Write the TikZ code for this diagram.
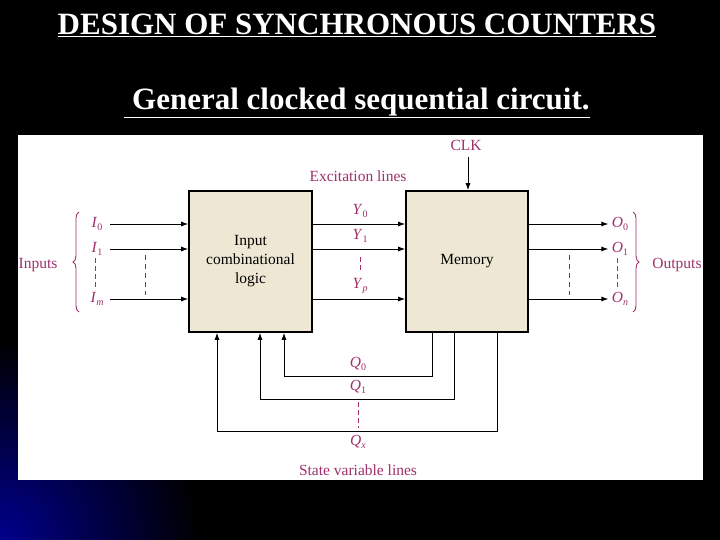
\documentclass[tikz,border=0pt]{standalone}
\usepackage{fontspec}
\setmainfont{Liberation Serif}
\usetikzlibrary{decorations.pathreplacing,arrows.meta}
\definecolor{lab}{HTML}{A0306A}
\definecolor{boxfill}{HTML}{EDE7D3}
\newcommand{\vr}[2]{\textit{#1}\raisebox{-0.35ex}{\fontsize{10}{10}\selectfont #2}}
\begin{document}
\begin{tikzpicture}[x=1pt,y=-1pt,
  blk/.style={draw=black,line width=1.6pt,fill=boxfill},
  sig/.style={line width=0.9pt,-{Latex[length=7pt,width=5pt]}},
  lbl/.style={text=lab,font=\fontsize{15.5}{17}\selectfont},
  dsh/.style={dashed,line width=0.8pt,dash pattern=on 5pt off 4pt},
  ttl/.style={text=white,font=\bfseries\fontsize{31}{34}\selectfont}]
\useasboundingbox (0,0) rectangle (720,540);
\fill[black] (0,0) rectangle (720,540);
\shade[inner color=blue!55!black,outer color=black] (0,540) circle (200);
\fill[black] (18,0) rectangle (720,480);
\fill[black] (0,0) rectangle (18,320);
\node[ttl] (t1) at (357,25) {\underline{DESIGN OF SYNCHRONOUS COUNTERS}};
\node[ttl] (t2) at (357,103) {\underline{\ General clocked sequential circuit.}};
\fill[white] (18,135) rectangle (703,480);
\node[blk,minimum width=123pt,minimum height=141pt,align=center,font=\fontsize{15.5}{19}\selectfont] (icl) at (250.5,261.5) {Input\\combinational\\logic};
\node[blk,minimum width=122pt,minimum height=141pt,font=\fontsize{15.5}{19}\selectfont] (mem) at (467,261.5) {Memory};
\foreach \y/\a/\b/\c/\n in {224/0/0/0/0,249/1/1/1/1,299/\textit{m}/\textit{p}/\textit{n}/m}{
  \node[lbl] (i\n) at (97,\y) {\vr{I}{\a}};
  \coordinate (ia\n) at (110,\y);
  \draw[sig] (ia\n) -- (ia\n -| icl.west);
  \node[lbl] (y\n) at (360,\y-13) {\vr{Y}{\b}};
  \draw[sig] (icl.east |- ia\n) -- (mem.west |- ia\n);
  \node[lbl] (o\n) at (620,\y) {\vr{O}{\c}};
  \draw[sig] (mem.east |- ia\n) -- (o\n.west);
}
\draw[lab,line width=0.6pt,dash pattern=on 5pt off 3pt] (95,258) -- (95,290);
\draw[lab,line width=0.6pt,dash pattern=on 5pt off 3pt] (360,257) -- (360,272);
\draw[lab,line width=0.6pt,dash pattern=on 5pt off 3pt] (617,258) -- (617,290);
\draw[black!70,dsh] (145,255) -- (145,295);
\draw[black!70,dsh] (569,255) -- (569,295);
\draw[lab,line width=0.9pt,decorate,decoration={brace,amplitude=6pt}] (79,312) -- (79,212);
\draw[lab,line width=0.9pt,decorate,decoration={brace,amplitude=6pt}] (633,212) -- (633,312);
\node[lbl] (inp) at (38,265) {Inputs};
\node[lbl] (outp) at (677,265) {Outputs};
\node[lbl] (exc) at (358,176) {Excitation lines};
\node[lbl] (clk) at (466,145) {CLK};
\draw[sig] (468,157) -- (mem.north -| 468,0);
\draw[sig] (mem.south -| 432,0) |- (284,376) -- (icl.south -| 284,0);
\draw[sig] (mem.south -| 454,0) |- (260,399) -- (icl.south -| 260,0);
\draw[sig] (mem.south -| 497,0) |- (217,431) -- (icl.south -| 217,0);
\node[lbl] (q0) at (358,364) {\vr{Q}{0}};
\node[lbl] (q1) at (358,387) {\vr{Q}{1}};
\draw[lab,line width=0.6pt,dash pattern=on 5pt off 3pt] (358,402) -- (358,428);
\node[lbl] (qx) at (358,442) {\vr{Q}{\textit{x}}};
\node[lbl] (svl) at (358,470) {State variable lines};
\end{tikzpicture}
\end{document}
